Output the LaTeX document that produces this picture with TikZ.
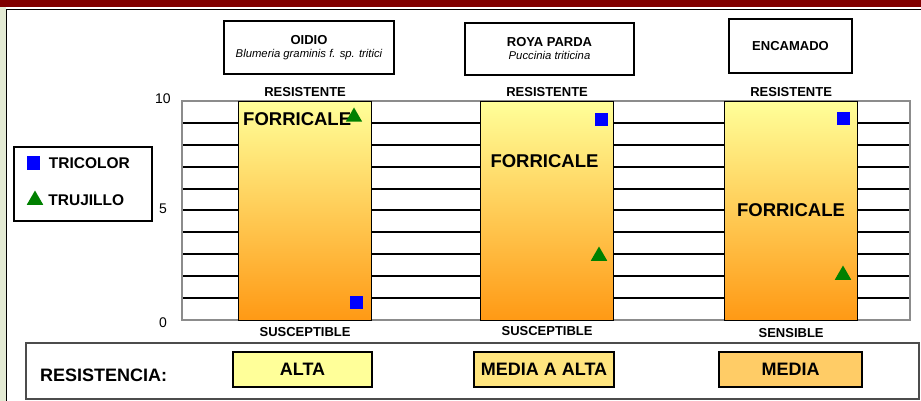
\documentclass[tikz,border=0pt]{standalone}
\usepackage{fontspec}
\setmainfont{Liberation Sans}
\usetikzlibrary{positioning,shapes.geometric}
\definecolor{titlered}{RGB}{128,0,0}
\definecolor{sidegreen}{RGB}{227,234,211}
\definecolor{paleyellow}{RGB}{255,255,153}
\definecolor{deeporange}{RGB}{255,153,20}
\definecolor{midyellow}{RGB}{255,229,127}
\definecolor{lightorange}{RGB}{255,204,102}
\definecolor{markgreen}{RGB}{0,128,0}

\begin{document}
\begin{tikzpicture}[x=1pt,y=-1pt,
    bar/.style={draw,line width=1.2pt,inner sep=0pt,anchor=north west,
                minimum width=133pt,minimum height=219pt,
                top color=paleyellow,bottom color=deeporange},
    gridline/.style={line width=1.3pt},
    plotframe/.style={draw=black!45,line width=1.5pt},
    brand/.style={font=\fontsize{18.5}{18.5}\selectfont\bfseries,inner sep=0pt},
    scalelbl/.style={font=\fontsize{13}{13}\selectfont\bfseries,inner sep=0pt},
    axisnum/.style={font=\fontsize{14}{14}\selectfont,inner sep=0pt},
    disease/.style={draw,line width=1.2pt,align=center,
                    font=\fontsize{13}{15}\selectfont\bfseries},
    tricolor/.style={fill=blue,inner sep=0pt,minimum size=13pt},
    trujillo/.style={fill=markgreen,regular polygon,regular polygon sides=3,
                     inner sep=0pt,minimum size=19pt},
    legtext/.style={font=\fontsize{15.5}{15.5}\selectfont\bfseries,inner sep=0pt},
    levelbox/.style={draw,line width=1.2pt,minimum height=35pt,
                     font=\fontsize{18}{18}\selectfont\bfseries}]

  \useasboundingbox (0,0) rectangle (921,401);
  \fill[titlered] (0,0) rectangle (921,7);
  \fill[sidegreen] (0,7) rectangle (6,401);
  \draw[line width=1.5pt] (6.5,401) -- (6.5,9.5) -- (921,9.5);

  \node[disease,minimum width=170pt,minimum height=53pt] (hoidio) at (309,47.5)
    {OIDIO\\[-2pt]{\mdseries\itshape\fontsize{11.3}{12}\selectfont Blumeria graminis f. sp. tritici}};
  \node[disease,minimum width=169pt,minimum height=52pt] (hroya) at (549.5,49)
    {ROYA PARDA\\[-2pt]{\mdseries\itshape\fontsize{11.3}{12}\selectfont Puccinia triticina}};
  \node[disease,minimum width=123pt,minimum height=54pt] (hencamado) at (790.5,46)
    {ENCAMADO};

  \foreach \k in {1,...,9}
    \draw[gridline] (182,{round(101+21.9*\k)}) -- (910,{round(101+21.9*\k)});
  \draw[plotframe] (182,101) rectangle (910,320);

  \node[axisnum] (ten)  at (163,99)  {10};
  \node[axisnum] (five) at (163,209) {5};
  \node[axisnum] (zero) at (163,323) {0};

  \node[bar] (oidio)    at (238,101) {};
  \node[bar] (roya)     at (480,101) {};
  \node[bar] (encamado) at (724,101) {};

  \node[scalelbl,above=4.5pt of oidio]    {RESISTENTE};
  \node[scalelbl,above=4.5pt of roya]     {RESISTENTE};
  \node[scalelbl,above=4.5pt of encamado] {RESISTENTE};
  \node[scalelbl,below=6pt of oidio]      {SUSCEPTIBLE};
  \node[scalelbl,below=5pt of roya]       {SUSCEPTIBLE};
  \node[scalelbl,below=7pt of encamado]   {SENSIBLE};

  \node[brand,anchor=west] (foidio) at (243,119) {FORRICALE};
  \node[brand] (froya)     at (544.5,161.5) {FORRICALE};
  \node[brand] (fencamado) at (791,210)     {FORRICALE};

  \node[tricolor] (tc1) at (356,302) {};
  \node[tricolor] (tc2) at (601,120) {};
  \node[tricolor] (tc3) at (843,119) {};
  \node[trujillo] (tj1) at (354,117) {};
  \node[trujillo] (tj2) at (599,256) {};
  \node[trujillo] (tj3) at (843,275) {};

  \node[draw,line width=1.2pt,minimum width=138pt,minimum height=74pt] (legend) at (83,184) {};
  \node[tricolor] (ltc) at (33,163) {};
  \node[trujillo] (ltj) at (35,200) {};
  \node[legtext,right=9pt of ltc] {TRICOLOR};
  \node[legtext,right=7.5pt of ltj] {TRUJILLO};

  \node[draw=black!70,line width=1.2pt,minimum width=893pt,minimum height=56pt] (resbox) at (472.5,371) {};
  \node[font=\fontsize{18}{18}\selectfont\bfseries,inner sep=0pt,anchor=west] (reslbl) at (40,375) {RESISTENCIA:};
  \node[levelbox,fill=paleyellow,minimum width=139pt]  (alta)  at (302.5,369.5) {ALTA};
  \node[levelbox,fill=midyellow,minimum width=140pt]   (malta) at (544,369.5)   {MEDIA A ALTA};
  \node[levelbox,fill=lightorange,minimum width=143pt] (media) at (790.5,369.5) {MEDIA};
\end{tikzpicture}
\end{document}
